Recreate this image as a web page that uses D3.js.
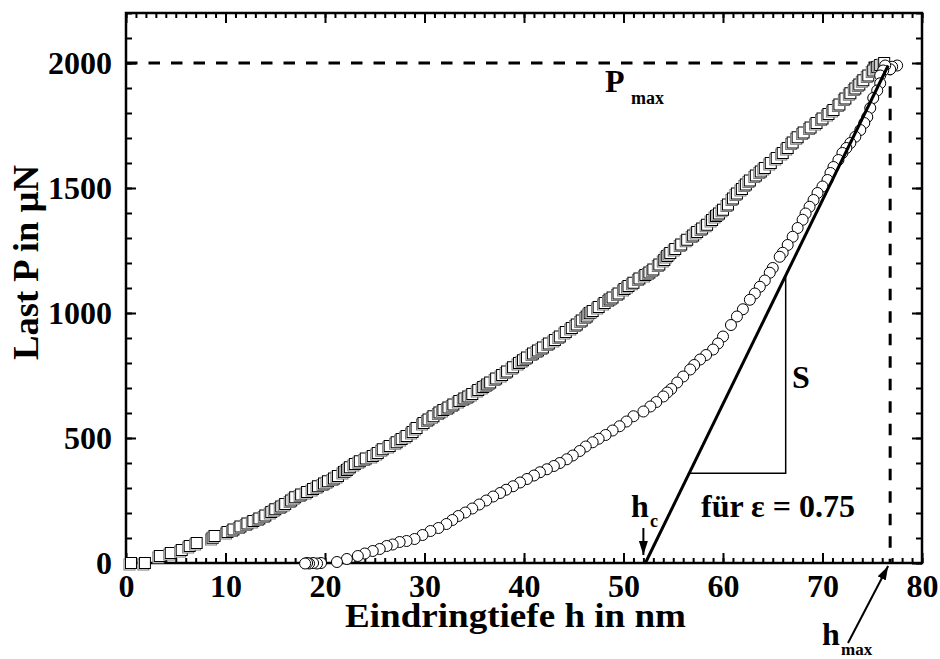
<!DOCTYPE html>
<html lang="de">
<head>
  <meta charset="UTF-8">
  <title>Last-Eindringtiefe-Kurve</title>
  <script src="https://d3js.org/d3.v7.min.js"></script>
  <style>
    body { margin: 0; background: #fff; }
    svg text { font-family: "Liberation Serif", "Times New Roman", serif; font-weight: bold; fill: #000; }
  </style>
</head>
<body>
<svg id="chart" width="940" height="659"></svg>
<script>
// loading curve (squares): depth h in nm, load P in µN
const loadH = [0.5,1.9,3.4,4.5,5.6,6.4,7.1,8.7,8.9,10.2,10.8,11.5,12.2,12.8,13.4,14.0,14.6,15.0,15.6,16.0,16.6,17.0,17.6,18.2,18.8,19.3,19.9,20.3,20.9,21.3,21.9,22.2,22.5,23.0,23.5,24.1,24.8,25.3,25.8,26.5,27.2,27.7,28.2,28.8,29.2,29.9,30.4,30.9,31.5,31.9,32.4,32.9,33.5,34.0,34.4,34.8,35.4,35.9,36.3,36.6,37.2,37.8,38.3,38.9,39.5,39.9,40.3,40.9,41.4,41.9,42.5,43.1,43.6,44.2,44.8,45.3,45.8,46.3,46.6,46.9,47.5,48.1,48.6,48.9,49.5,50.1,50.5,51.0,51.6,52.2,52.6,53.0,53.6,54.1,54.4,54.7,55.2,55.8,56.4,57.0,57.4,57.9,58.4,58.9,59.3,59.6,60.0,60.5,61.0,61.4,61.9,62.3,62.7,63.3,63.8,64.2,64.8,65.4,66.0,66.5,67.0,67.5,68.1,68.8,69.4,70.0,70.6,71.1,71.7,72.3,72.8,73.3,73.7,74.1,74.6,75.1,75.5,75.8,76.2];
const loadP = [0,0,28,40,52,68,80,100,108,124,134,146,158,168,178,190,204,215,226,236,250,263,274,284,296,307,318,327,338,348,364,372,383,396,407,418,428,440,455,468,483,496,508,524,540,560,574,587,602,612,622,634,648,658,666,676,692,704,714,722,738,752,766,783,800,811,822,838,850,862,878,892,906,924,940,954,970,986,1000,1008,1024,1040,1054,1062,1078,1096,1108,1121,1138,1152,1162,1174,1194,1212,1228,1240,1256,1274,1293,1310,1324,1338,1353,1372,1388,1398,1413,1434,1458,1478,1496,1514,1530,1550,1566,1580,1600,1620,1640,1660,1682,1703,1722,1742,1760,1778,1796,1812,1834,1858,1879,1898,1914,1931,1950,1970,1984,1992,2000];

// unloading curve (circles)
const unloadH = [77.5,77.0,76.8,76.3,76.1,75.8,75.8,75.5,75.1,74.8,74.5,74.2,73.8,73.3,72.8,72.4,72.0,71.6,71.1,70.8,70.5,70.0,69.5,69.1,68.7,68.3,68.0,67.5,67.0,66.5,66.0,65.7,65.0,64.7,64.2,63.7,63.2,62.7,62.0,61.4,60.8,60.0,59.5,59.0,58.3,57.7,57.1,56.7,56.0,55.4,54.8,54.4,54.0,53.3,52.7,52.0,51.0,50.3,49.6,48.9,48.2,47.5,46.9,46.2,45.6,44.9,44.3,43.6,43.0,42.3,41.6,41.0,40.3,39.6,38.9,38.2,37.6,36.9,36.2,35.5,34.8,34.1,33.4,32.8,32.2,31.4,30.6,29.8,29.0,28.2,27.5,26.8,26.2,25.5,24.8,24.0,23.3,22.2,21.2,19.6,19.2,18.8,18.4,18.2,18.0];
const unloadP = [1990,1985,1975,1990,1970,1950,1919,1890,1860,1820,1784,1760,1732,1705,1680,1660,1640,1612,1584,1560,1532,1506,1480,1452,1425,1398,1373,1340,1305,1272,1241,1225,1180,1161,1130,1105,1078,1053,1015,986,952,906,878,854,832,814,792,774,746,722,696,682,666,644,626,606,587,566,547,530,512,497,483,466,448,430,415,400,388,375,363,350,336,322,307,293,280,266,250,234,218,202,188,172,156,140,128,112,96,88,84,74,68,56,48,38,28,16,4,0,-2,0,-2,0,-2];

// tangent (contact stiffness S) and reference values
const hc = 52.2, hTop = 76.6, pTop = 1990;
const hMax = 76.8, pMax = 2000;
const triH = 66.3, triP = 359;

const xTicks = [0, 10, 20, 30, 40, 50, 60, 70, 80];
const yTicks = [0, 500, 1000, 1500, 2000];

const svg = d3.select("#chart");
const m = { left: 126, right: 922, top: 13, bottom: 563 };
const x = d3.scaleLinear().domain([0, 80]).range([m.left, m.right]);
const y = d3.scaleLinear().domain([0, 2200]).range([m.bottom, m.top]);

// axes with inward ticks
const minorX = d3.range(0, 81, 1), minorY = d3.range(0, 2201, 100);
function axisGroup(gen, tr) {
  const g = svg.append("g").attr("transform", tr).call(gen);
  g.select(".domain").remove();
  g.selectAll("line").attr("stroke", "#000").attr("stroke-width", 2);
  return g;
}
axisGroup(d3.axisBottom(x).tickValues(minorX).tickSize(-5).tickFormat(""), `translate(0,${m.bottom})`);
axisGroup(d3.axisTop(x).tickValues(minorX).tickSize(-5).tickFormat(""), `translate(0,${m.top})`);
axisGroup(d3.axisTop(x).tickValues(xTicks).tickSize(-10).tickFormat(""), `translate(0,${m.top})`);
axisGroup(d3.axisLeft(y).tickValues(minorY).tickSize(-6).tickFormat(""), `translate(${m.left},0)`);
axisGroup(d3.axisRight(y).tickValues(minorY).tickSize(-6).tickFormat(""), `translate(${m.right},0)`);
axisGroup(d3.axisRight(y).tickValues(yTicks).tickSize(-10).tickFormat(""), `translate(${m.right},0)`);

const xb = axisGroup(d3.axisBottom(x).tickValues(xTicks).tickSize(-10).tickPadding(11).tickFormat(d3.format("d")), `translate(0,${m.bottom})`);
xb.selectAll("text").style("font-size", "32px");
const yl = axisGroup(d3.axisLeft(y).tickValues(yTicks).tickSize(-10).tickPadding(14).tickFormat(d3.format("d")), `translate(${m.left},0)`);
yl.selectAll("text").style("font-size", "32px");

// frame
svg.append("rect")
  .attr("x", m.left).attr("y", m.top)
  .attr("width", m.right - m.left).attr("height", m.bottom - m.top)
  .attr("fill", "none").attr("stroke", "#000").attr("stroke-width", 2.5);

// dashed reference lines
svg.append("path")
  .attr("d", `M${x(0)},${y(pMax)}H${x(hMax)}V${y(0)}`)
  .attr("fill", "none").attr("stroke", "#000").attr("stroke-width", 3)
  .attr("stroke-dasharray", "11.5,11");

// loading squares
const sq = 11;
const sqG = svg.append("g").selectAll("g")
  .data(loadH.map((h, i) => ({ h, p: loadP[i] })))
  .join("g")
  .attr("transform", d => `translate(${x(d.h)},${y(d.p)})`);
sqG.append("rect")
  .attr("x", -sq / 2 - 1.5).attr("y", -sq / 2 + 1.5).attr("width", sq).attr("height", sq)
  .attr("fill", "#fff").attr("stroke", "#777").attr("stroke-width", 1);
sqG.append("rect")
  .attr("x", -sq / 2).attr("y", -sq / 2).attr("width", sq).attr("height", sq)
  .attr("fill", "#fff").attr("stroke", "#000").attr("stroke-width", 1);

// unloading circles
svg.append("g").selectAll("circle")
  .data(unloadH.map((h, i) => ({ h, p: unloadP[i] })))
  .join("circle")
  .attr("cx", d => x(d.h)).attr("cy", d => y(d.p)).attr("r", 5.5)
  .attr("fill", "#fff").attr("stroke", "#000").attr("stroke-width", 1);

// tangent line and stiffness triangle
svg.append("line")
  .attr("x1", x(hc)).attr("y1", y(0)).attr("x2", x(hTop)).attr("y2", y(pTop))
  .attr("stroke", "#000").attr("stroke-width", 3);
const slope = pTop / (hTop - hc);
const triH0 = hc + triP / slope, triPTop = (triH - hc) * slope;
svg.append("path")
  .attr("d", `M${x(triH0)},${y(triP)}H${x(triH)}V${y(triPTop)}`)
  .attr("fill", "none").attr("stroke", "#000").attr("stroke-width", 1.5);

// arrows
svg.append("defs").append("marker")
  .attr("id", "arrow").attr("viewBox", "0 -5 14 10")
  .attr("refX", 14).attr("refY", 0)
  .attr("markerWidth", 14).attr("markerHeight", 10)
  .attr("markerUnits", "userSpaceOnUse").attr("orient", "auto")
  .append("path").attr("d", "M0,-4.5L14,0L0,4.5Z").attr("fill", "#000");

svg.append("line")
  .attr("x1", x(hc) - 2).attr("y1", 528).attr("x2", x(hc) - 2).attr("y2", 555)
  .attr("stroke", "#000").attr("stroke-width", 2).attr("marker-end", "url(#arrow)");
svg.append("line")
  .attr("x1", 848).attr("y1", 643).attr("x2", x(hMax) - 2).attr("y2", 566)
  .attr("stroke", "#000").attr("stroke-width", 2).attr("marker-end", "url(#arrow)");

// labels
function label(tx, ty, str, size, anchor) {
  return svg.append("text").attr("x", tx).attr("y", ty)
    .attr("text-anchor", anchor || "start").style("font-size", size + "px").text(str);
}
label(605, 92, "P", 32);
label(631, 104, "max", 18);
label(792, 388, "S", 32);
label(631, 517, "h", 32);
label(650, 527, "c", 18);
label(701, 517, "für ε = 0.75", 32);
label(822, 645, "h", 32);
label(841, 655, "max", 17);

label(345, 627, "Eindringtiefe h in nm", 34)
  .attr("textLength", 341).attr("lengthAdjust", "spacingAndGlyphs");
svg.append("text")
  .attr("transform", "translate(38,360) rotate(-90)")
  .style("font-size", "35px")
  .attr("textLength", 195).attr("lengthAdjust", "spacingAndGlyphs")
  .text("Last P in µN");
</script>
</body>
</html>
